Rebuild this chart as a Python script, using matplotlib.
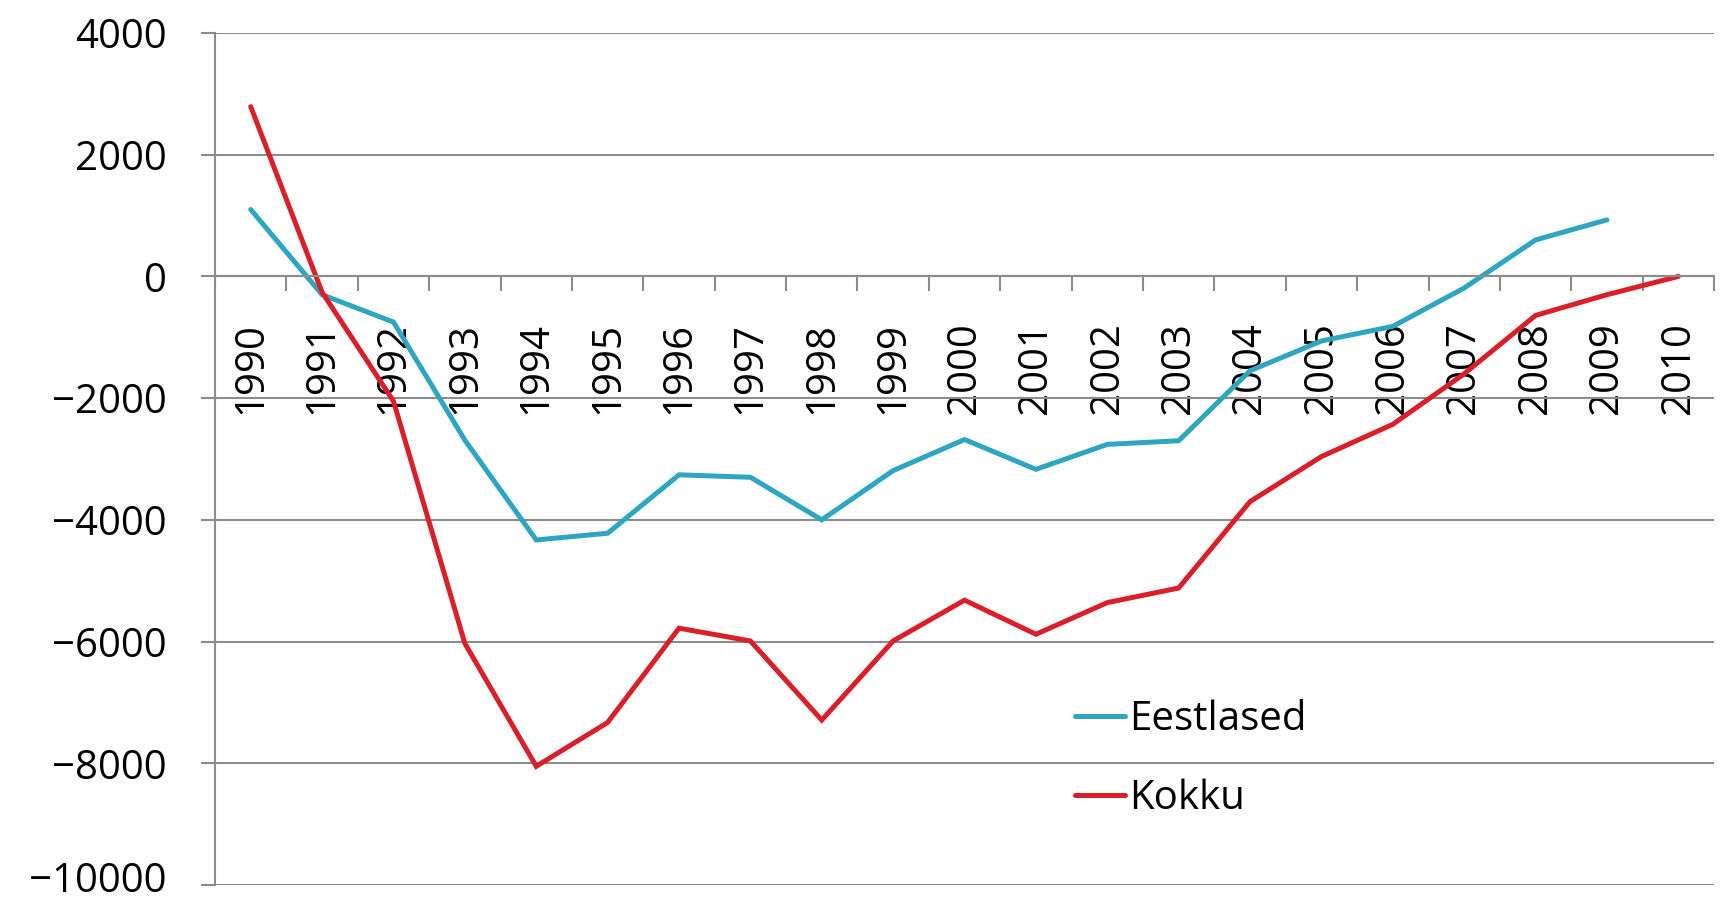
import matplotlib.pyplot as plt
import matplotlib.transforms as mtransforms
import numpy as np

plt.rcParams['font.family'] = ['Open Sans', 'DejaVu Sans']

years = [str(y) for y in range(1990, 2011)]
eestlased = [1100, -300, -750, -2690, -4330, -4220, -3260, -3300, -4000, -3190,
             -2680, -3170, -2760, -2700, -1550, -1060, -820, -190, 600, 930]
kokku = [2790, -260, -2050, -6030, -8050, -7330, -5780, -5990, -7290, -5990,
         -5320, -5880, -5360, -5120, -3700, -2960, -2430, -1600, -640, -300, 0]

blue = '#2ea6c2'
red = '#d9202a'
grey = '#8c8c8c'

fig = plt.figure(figsize=(17.23, 9), dpi=100)
ax = fig.add_axes([0.1248, 0.0167, 0.87, 0.9466])

x = np.arange(len(years))
ax.plot(x[:len(eestlased)], eestlased, color=blue, lw=3.6, label='Eestlased',
        solid_capstyle='round', solid_joinstyle='miter')
ax.plot(x, kokku, color=red, lw=3.6, label='Kokku',
        solid_capstyle='round', solid_joinstyle='miter')

ax.set_xlim(-0.5, len(years) - 0.5)
ax.set_ylim(-10000, 4000)
ax.set_yticks(range(-10000, 4001, 2000))
ax.yaxis.grid(True, color=grey, lw=1.5)
ax.set_axisbelow(True)

for s in ['top', 'right']:
    ax.spines[s].set_visible(False)
ax.spines['left'].set_color(grey)
ax.spines['left'].set_linewidth(1.5)
ax.spines['bottom'].set_position(('data', 0))
ax.spines['bottom'].set_color(grey)
ax.spines['bottom'].set_linewidth(1.5)

ax.tick_params(axis='y', direction='out', length=10, width=1.5, color=grey,
               labelsize=29, pad=25)
# lowest label sits right at the figure edge, nudge it up a bit
lowest = ax.get_yticklabels()[0]
lowest.set_transform(lowest.get_transform() + mtransforms.ScaledTranslation(0, 6 / 72, fig.dpi_scale_trans))

# category boundaries get tick marks, labels sit at centres
ax.set_xticks(np.arange(-0.5, len(years)), labels=[])
ax.tick_params(axis='x', which='major', direction='out', length=11, width=1.5, color=grey)
ax.set_xticks(x, labels=years, minor=True)
ax.tick_params(axis='x', which='minor', length=0, pad=33, labelsize=29, labelrotation=90)
for t in ax.get_xticklabels(minor=True):
    t.set_va('top')

ax.legend(loc='upper left', bbox_to_anchor=(0.612, 0.245), bbox_transform=fig.transFigure,
          frameon=False, fontsize=29, handlelength=1.25, handletextpad=0.1,
          labelspacing=0.95, borderpad=0)

fig.savefig('out.png', dpi=100)
